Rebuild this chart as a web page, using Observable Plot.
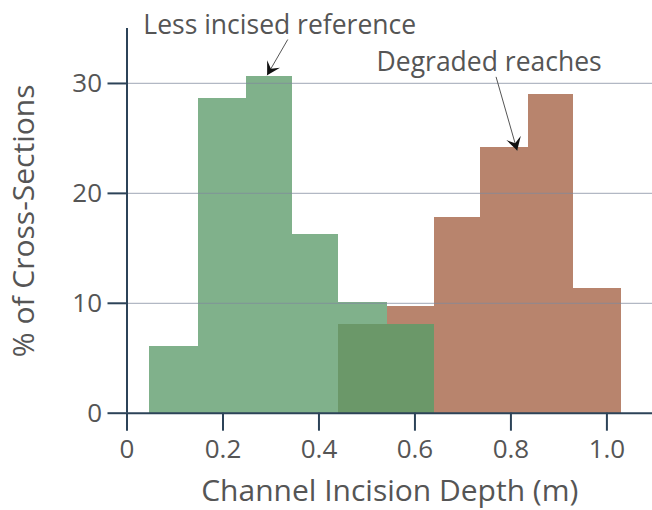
<!DOCTYPE html>
<html>
<head>
<meta charset="utf-8">
<script src="https://cdn.jsdelivr.net/npm/d3@7"></script>
<script src="https://cdn.jsdelivr.net/npm/@observablehq/plot@0.6"></script>
<style>
  html, body { margin: 0; padding: 0; background: #fff; }
  #chart { width: 652px; height: 510px; }
</style>
</head>
<body>
<div id="chart"></div>
<script>
// ---- data ----
const binEdges = [0.0475, 0.148, 0.248, 0.345, 0.441, 0.542, 0.640, 0.736, 0.836, 0.931, 1.030];
const referencePct = [6.1, 28.6, 30.6, 16.3, 10.1, 8.1, 0, 0, 0, 0];
const degradedPct  = [0, 0, 0, 0, 8.1, 9.7, 17.8, 24.2, 29.0, 11.3];
const xTicks = [0, 0.2, 0.4, 0.6, 0.8, 1.0];
const xTickLabels = ["0", "0.2", "0.4", "0.6", "0.8", "1.0"];
const yTicks = [0, 10, 20, 30];
const xAxisTitle = "Channel Incision Depth (m)";
const yAxisTitle = "% of Cross-Sections";
const annotationLabels = ["Less incised reference", "Degraded reaches"];
const labelX = [0.034, 0.52];
const labelY = [35.3, 31.95];
const arrowFromX = [0.335, 0.769];
const arrowFromY = [34.0, 30.6];
const arrowToX = [0.292, 0.813];
const arrowToY = [30.75, 23.9];

// ---- tables ----
const bins = referencePct.map((r, i) => ({
  x1: binEdges[i], x2: binEdges[i + 1],
  reference: r, degraded: degradedPct[i],
  overlap: Math.min(r, degradedPct[i])
}));
const labels = annotationLabels.map((t, i) => ({text: t, x: labelX[i], y: labelY[i]}));
const arrows = arrowFromX.map((x, i) => ({x1: x, y1: arrowFromY[i], x2: arrowToX[i], y2: arrowToY[i]}));

function stealth(color, context) {
  const ns = "http://www.w3.org/2000/svg";
  const m = context.document.createElementNS(ns, "marker");
  m.setAttribute("viewBox", "-13 -8 14 16");
  m.setAttribute("markerWidth", "14");
  m.setAttribute("markerHeight", "16");
  m.setAttribute("markerUnits", "userSpaceOnUse");
  m.setAttribute("refX", "0");
  m.setAttribute("refY", "0");
  m.setAttribute("orient", "auto");
  const p = context.document.createElementNS(ns, "path");
  p.setAttribute("d", "M0,0 L-13,-7.5 L-7.5,0 L-13,7.5 Z");
  p.setAttribute("fill", "#111");
  p.setAttribute("stroke", "none");
  m.appendChild(p);
  return m;
}

const axisColor = "#2c4358";
const textColor = "#555";
const font = "'Open Sans', 'Noto Sans', sans-serif";

const chart = Plot.plot({
  width: 652,
  height: 510,
  marginLeft: 126.5,
  marginRight: 0,
  marginTop: 28,
  marginBottom: 97.3,
  style: {fontFamily: font, color: textColor, background: "#fff", overflow: "visible"},
  x: {domain: [0, 1.095]},
  y: {domain: [0, 35]},
  marks: [
    Plot.rectY(bins, {x1: "x1", x2: "x2", y: "degraded", fill: "#b8846d", shapeRendering: "crispEdges"}),
    Plot.rectY(bins, {x1: "x1", x2: "x2", y: "reference", fill: "#80b18b", shapeRendering: "crispEdges"}),
    Plot.rectY(bins, {x1: "x1", x2: "x2", y: "overlap", fill: "#6b9869", shapeRendering: "crispEdges"}),
    Plot.ruleY(yTicks.filter(d => d > 0), {stroke: "#7f889c", strokeOpacity: 0.6, strokeWidth: 1.2}),
    Plot.axisX({ticks: xTicks, tickFormat: (d) => xTickLabels[xTicks.indexOf(d)], tickSize: 18, tickPadding: 8, fontSize: 26, stroke: axisColor, strokeWidth: 2, fill: textColor, label: null}),
    Plot.axisY({ticks: yTicks, tickSize: 19, tickPadding: 6, fontSize: 26, stroke: axisColor, strokeWidth: 2, fill: textColor, label: null}),
    Plot.axisX({ticks: [], tickSize: 0, fontSize: 30, fill: textColor, label: xAxisTitle, labelAnchor: "center", labelOffset: 88, labelArrow: "none"}),
    Plot.axisY({ticks: [], tickSize: 0, fontSize: 30, fill: textColor, label: yAxisTitle, labelAnchor: "center", labelOffset: 114, labelArrow: "none"}),
    Plot.ruleX([0], {y1: 0, y2: 35, stroke: axisColor, strokeWidth: 2}),
    Plot.ruleY([0], {x1: 0, x2: 1.095, stroke: axisColor, strokeWidth: 2}),
    Plot.link(arrows, {x1: "x1", y1: "y1", x2: "x2", y2: "y2", stroke: "#555", strokeWidth: 1, markerEnd: stealth}),
    Plot.text(labels, {x: "x", y: "y", text: "text", textAnchor: "start", lineAnchor: "middle", fontSize: 26.5, fill: textColor})
  ]
});
document.getElementById("chart").appendChild(chart);
</script>
</body>
</html>
